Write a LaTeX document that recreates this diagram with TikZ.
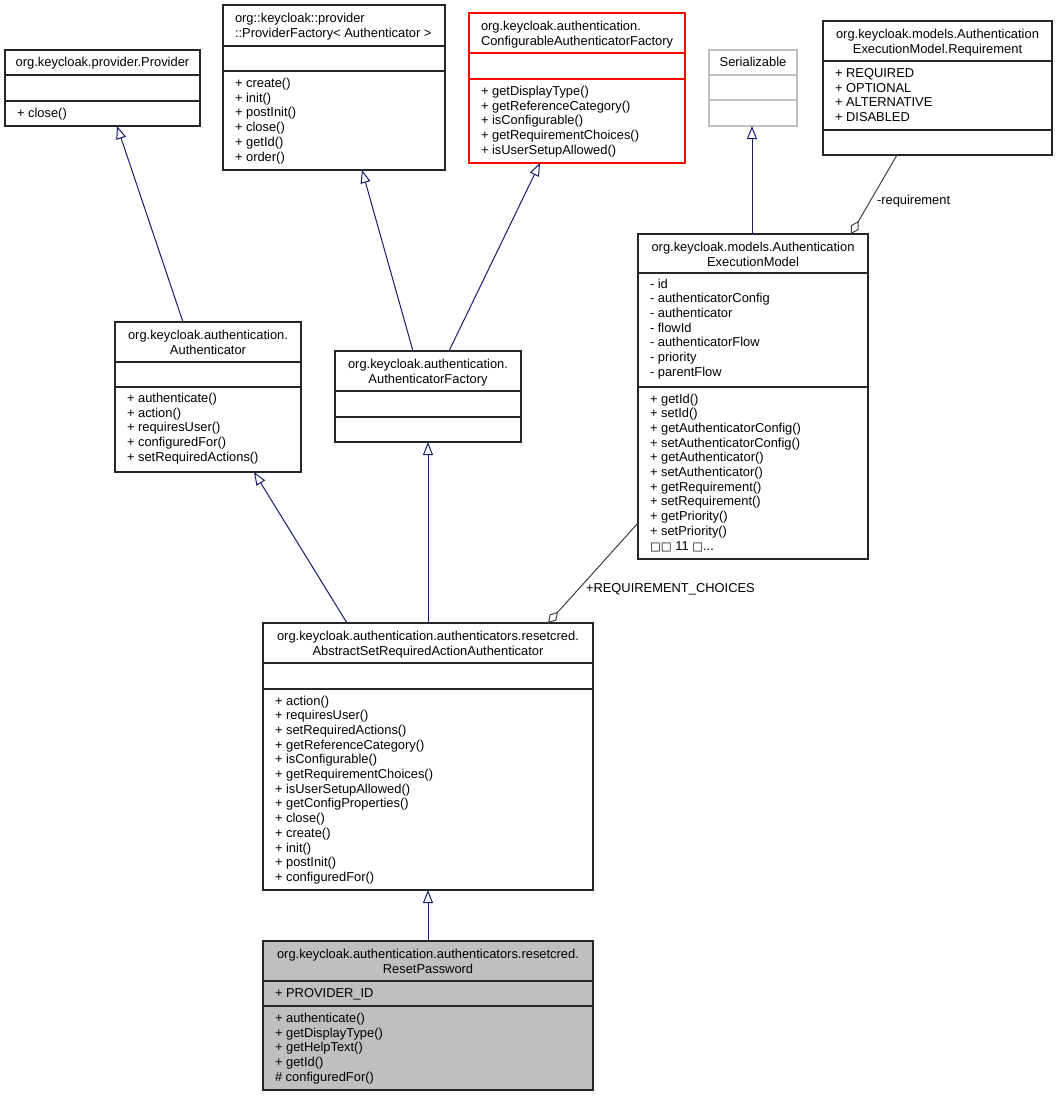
\documentclass[tikz,border=0pt]{standalone}
\usepackage{fontspec}
\setmainfont{Liberation Sans}
\newfontfamily\dejavu{DejaVu Sans}
\usetikzlibrary{arrows.meta}
\definecolor{edgeblue}{HTML}{191970}
\definecolor{agggray}{HTML}{404040}
\definecolor{resetgray}{HTML}{BFBFBF}
\definecolor{boxred}{HTML}{FF0000}
\newcommand\fl{\rule{0pt}{9.5pt}}
\newcommand\mg{{\dejavu\fontsize{11.5}{14.6}\selectfont □}}
\begin{document}
\begin{tikzpicture}[x=1pt,y=-1pt,
  umlbox/.style={draw=black!85, line width=1.1pt, inner sep=0pt, outer sep=0pt, anchor=north west},
  sepline/.style={draw=black!85, line width=1.1pt},
  txt/.style={inner sep=0pt, outer sep=0pt, font=\fontsize{12.9}{14.7}\selectfont},
  mem/.style={txt, anchor=north west, align=left},
  ttl/.style={txt, anchor=north, align=center},
  ttll/.style={txt, anchor=north west, align=left},
  inherit/.style={draw=edgeblue, line width=1pt, -{Triangle[open, length=13pt, width=10pt, fill=white]}},
  aggr/.style={draw=agggray, line width=1pt, -{Diamond[open, length=15pt, width=9pt, fill=white]}},
  lbl/.style={txt, anchor=north west}
]
\useasboundingbox (0,0) rectangle (1057,1096);
\fill[white] (0,0) rectangle (1057,1096);

% Provider
\node[umlbox, minimum width=195pt, minimum height=76pt] (provider) at (5,50) {};
\draw[sepline] (5,75) -- (200,75) (5,101) -- (200,101);
\node[ttl] (providerT) at (102.5,57) {\fl org.keycloak.provider.Provider};
\node[mem] (providerM) at (17,108) {\fl + close()};

% ProviderFactory
\node[umlbox, minimum width=222pt, minimum height=165pt] (pfactory) at (223,5) {};
\draw[sepline] (223,46) -- (445,46) (223,71) -- (445,71);
\node[ttll] (pfactoryT) at (235,13) {\fl org::keycloak::provider\\::ProviderFactory< Authenticator >};
\node[mem] (pfactoryM) at (235,78) {\fl + create()\\+ init()\\+ postInit()\\+ close()\\+ getId()\\+ order()};

% ConfigurableAuthenticatorFactory
\node[umlbox, draw=boxred, minimum width=216pt, minimum height=150pt] (config) at (469,13) {};
\draw[sepline, draw=boxred] (469,53) -- (685,53) (469,79) -- (685,79);
\node[ttll] (configT) at (481,21) {\fl org.keycloak.authentication.\\ConfigurableAuthenticatorFactory};
\node[mem] (configM) at (481,86) {\fl + getDisplayType()\\+ getReferenceCategory()\\+ isConfigurable()\\+ getRequirementChoices()\\+ isUserSetupAllowed()};

% Serializable
\node[umlbox, draw=resetgray, minimum width=88pt, minimum height=76pt] (serial) at (709,50) {};
\draw[sepline, draw=resetgray] (709,75) -- (797,75) (709,100) -- (797,100);
\node[ttl] (serialT) at (753,57) {\fl Serializable};

% Requirement
\node[umlbox, minimum width=229pt, minimum height=134pt] (req) at (823,21) {};
\draw[sepline] (823,61) -- (1052,61) (823,130) -- (1052,130);
\node[ttl] (reqT) at (937.5,29) {\fl org.keycloak.models.Authentication\\ExecutionModel.Requirement};
\node[mem] (reqA) at (835,68) {\fl + REQUIRED\\+ OPTIONAL\\+ ALTERNATIVE\\+ DISABLED};

% AuthenticationExecutionModel
\node[umlbox, minimum width=230pt, minimum height=325pt] (aem) at (638,234) {};
\draw[sepline] (638,273) -- (868,273) (638,387) -- (868,387);
\node[ttl] (aemT) at (753,242) {\fl org.keycloak.models.Authentication\\ExecutionModel};
\node[mem] (aemA) at (650,278.5) {\fl - id\\- authenticatorConfig\\- authenticator\\- flowId\\- authenticatorFlow\\- priority\\- parentFlow};
\node[mem] (aemM) at (650,393.5) {\fl + getId()\\+ setId()\\+ getAuthenticatorConfig()\\+ setAuthenticatorConfig()\\+ getAuthenticator()\\+ setAuthenticator()\\+ getRequirement()\\+ setRequirement()\\+ getPriority()\\+ setPriority()\\\mg\mg{} 11 \mg...};

% Authenticator
\node[umlbox, minimum width=186pt, minimum height=150pt] (auth) at (115,322) {};
\draw[sepline] (115,362) -- (301,362) (115,387) -- (301,387);
\node[ttl] (authT) at (208,330) {\fl org.keycloak.authentication.\\Authenticator};
\node[mem] (authM) at (127,393) {\fl + authenticate()\\+ action()\\+ requiresUser()\\+ configuredFor()\\+ setRequiredActions()};

% AuthenticatorFactory
\node[umlbox, minimum width=186pt, minimum height=91pt] (afactory) at (335,351) {};
\draw[sepline] (335,391) -- (521,391) (335,417) -- (521,417);
\node[ttl] (afactoryT) at (428,359) {\fl org.keycloak.authentication.\\AuthenticatorFactory};

% AbstractSetRequiredActionAuthenticator
\node[umlbox, minimum width=330pt, minimum height=267pt] (abstract) at (263,623) {};
\draw[sepline] (263,663) -- (593,663) (263,689) -- (593,689);
\node[ttl] (abstractT) at (428,631) {\fl org.keycloak.authentication.authenticators.resetcred.\\AbstractSetRequiredActionAuthenticator};
\node[mem] (abstractM) at (275,695.5) {\fl + action()\\+ requiresUser()\\+ setRequiredActions()\\+ getReferenceCategory()\\+ isConfigurable()\\+ getRequirementChoices()\\+ isUserSetupAllowed()\\+ getConfigProperties()\\+ close()\\+ create()\\+ init()\\+ postInit()\\+ configuredFor()};

% ResetPassword
\node[umlbox, fill=resetgray, minimum width=330pt, minimum height=149pt] (reset) at (263,941) {};
\draw[sepline] (263,981) -- (593,981) (263,1006) -- (593,1006);
\node[ttl] (resetT) at (428,949) {\fl org.keycloak.authentication.authenticators.resetcred.\\ResetPassword};
\node[mem] (resetA) at (275,988) {\fl + PROVIDER\_ID};
\node[mem] (resetM) at (275,1013) {\fl + authenticate()\\+ getDisplayType()\\+ getHelpText()\\+ getId()\\\# configuredFor()};

% connectors
\draw[inherit] ([xshift=-25pt]auth.north) -- ([xshift=14.5pt]provider.south);
\draw[inherit] ([xshift=-15pt]afactory.north) -- ([xshift=28pt]pfactory.south);
\draw[inherit] ([xshift=21pt]afactory.north) -- ([xshift=-37pt]config.south);
\draw[inherit] ([xshift=-1pt]aem.north) -- ([xshift=-1pt]serial.south);
\draw[inherit] ([xshift=-81pt]abstract.north) -- ([xshift=46pt]auth.south);
\draw[inherit] (abstract.north) -- (afactory.south);
\draw[inherit] (reset.north) -- (abstract.south);
\draw[aggr] ([xshift=-40.5pt]req.south) -- ([xshift=98pt]aem.north);
\draw[aggr] ([yshift=-126.5pt]aem.west) -- ([xshift=120pt]abstract.north);
\node[lbl] (reqLbl) at (877,195) {\fl -requirement};
\node[lbl] (choicesLbl) at (586,583) {\fl +REQUIREMENT\_CHOICES};
\end{tikzpicture}
\end{document}
